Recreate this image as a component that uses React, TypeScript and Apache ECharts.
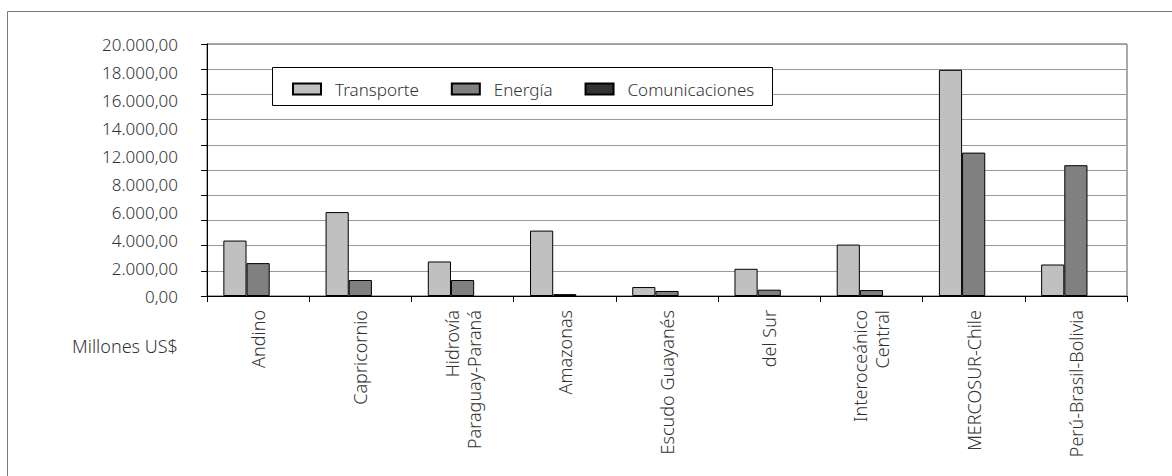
import React, { useEffect, useRef } from 'react';
import * as echarts from 'echarts';

const categories = [
  'Andino',
  'Capricornio',
  'Hidrovía\nParaguay-Paraná',
  'Amazonas',
  'Escudo Guayanés',
  'del Sur',
  'Interoceánico\nCentral',
  'MERCOSUR-Chile',
  'Perú-Brasil-Bolivia',
];
const transporte = [4400, 6660, 2740, 5190, 710, 2160, 4080, 17950, 2500];
const energia = [2610, 1270, 1270, 150, 400, 500, 470, 11380, 10380];
const comunicaciones = [0, 0, 0, 0, 0, 0, 0, 0, 0];
const yTickLabels = ['0,00', '2.000,00', '4.000,00', '6.000,00', '8.000,00', '12.000,00', '14.000,00', '16.000,00', '18.000,00', '20.000,00'];
const seriesNames = ['Transporte', 'Energía', 'Comunicaciones'];
const unitLabel = 'Millones US$';

const FONT = 'Noto Sans';
const TXT = '#333';
const WEIGHT = 300;

export default function App() {
  const ref = useRef<HTMLDivElement>(null);
  useEffect(() => {
    const chart = echarts.init(ref.current!, null, { renderer: 'svg' });
    const gridRect = { left: 207, right: 45, top: 44, bottom: 180 };
    const barStyle = (color: string) => ({ color, borderColor: '#000', borderWidth: 1 });
    const noZero = (arr: number[]) => arr.map((v) => (v === 0 ? null : v));
    chart.setOption({
      animation: false,
      backgroundColor: '#fff',
      textStyle: { fontFamily: FONT, fontWeight: WEIGHT },
      grid: [
        { ...gridRect, show: true, borderColor: '#555', borderWidth: 1, backgroundColor: 'transparent' },
        { ...gridRect, show: false },
      ],
      legend: {
        data: seriesNames,
        icon: 'rect',
        left: 292,
        top: 79,
        padding: 0,
        itemWidth: 28,
        itemHeight: 11,
        itemGap: 32,
        z: 10,
        textStyle: { fontFamily: FONT, fontWeight: WEIGHT, fontSize: 17, color: TXT, lineHeight: 20, padding: [0, 0, 0, 9] },
      },
      xAxis: [
        {
          type: 'category',
          gridIndex: 0,
          data: categories,
          axisLine: { lineStyle: { color: '#000', width: 1 } },
          axisTick: { show: true, length: 6, alignWithLabel: false, interval: 0, lineStyle: { color: '#000' } },
          axisLabel: {
            interval: 0,
            rotate: 90,
            margin: 14,
            fontFamily: FONT,
            fontWeight: WEIGHT,
            fontSize: 18,
            lineHeight: 22,
            color: TXT,
          },
        },
        { type: 'value', gridIndex: 1, show: false, min: 0, max: 1 },
      ],
      yAxis: [
        {
          type: 'value',
          gridIndex: 0,
          min: 0,
          max: 20000,
          interval: 2000,
          axisLine: { show: true, lineStyle: { color: '#000', width: 1 } },
          axisTick: { show: true, length: 6, lineStyle: { color: '#000' } },
          axisLabel: { show: false },
          splitLine: { show: true, lineStyle: { color: '#9a9a9a', width: 1 } },
        },
        {
          type: 'value',
          gridIndex: 1,
          min: 0,
          max: yTickLabels.length - 1,
          interval: 1,
          axisLine: { show: false },
          axisTick: { show: false },
          splitLine: { show: false },
          axisLabel: {
            margin: 29,
            fontFamily: FONT,
            fontWeight: WEIGHT,
            fontSize: 17,
            color: TXT,
            formatter: (v: number) => yTickLabels[Math.round(v)] ?? '',
          },
        },
      ],
      series: [
        { name: seriesNames[0], type: 'bar', data: noZero(transporte), itemStyle: barStyle('#c0c0c0'), barGap: '0%', barCategoryGap: '32%' },
        { name: seriesNames[1], type: 'bar', data: noZero(energia), itemStyle: barStyle('#808080'), barGap: '0%', barCategoryGap: '32%' },
        { name: seriesNames[2], type: 'bar', data: noZero(comunicaciones), itemStyle: barStyle('#333333'), barGap: '0%', barCategoryGap: '32%' },
      ],
      graphic: [
        {
          type: 'rect',
          z: 0,
          silent: true,
          shape: { x: 7.5, y: 11.5, width: 1200, height: 500 },
          style: { fill: 'none', stroke: '#7a7a7a', lineWidth: 1 },
        },
        {
          type: 'rect',
          z: 9,
          silent: true,
          shape: { x: 272.5, y: 67.5, width: 500, height: 38 },
          style: { fill: '#fff', stroke: '#000', lineWidth: 1 },
        },
        {
          type: 'text',
          z: 9,
          x: 72,
          y: 346,
          style: { text: unitLabel, fontFamily: FONT, fontWeight: WEIGHT, fontSize: 18, fill: TXT, verticalAlign: 'middle' },
        },
      ],
    });
    return () => chart.dispose();
  }, []);
  return (
    <div
      ref={ref}
      style={{ position: 'absolute', left: 0, top: 0, width: 1172, height: 476, background: '#fff' }}
    />
  );
}
